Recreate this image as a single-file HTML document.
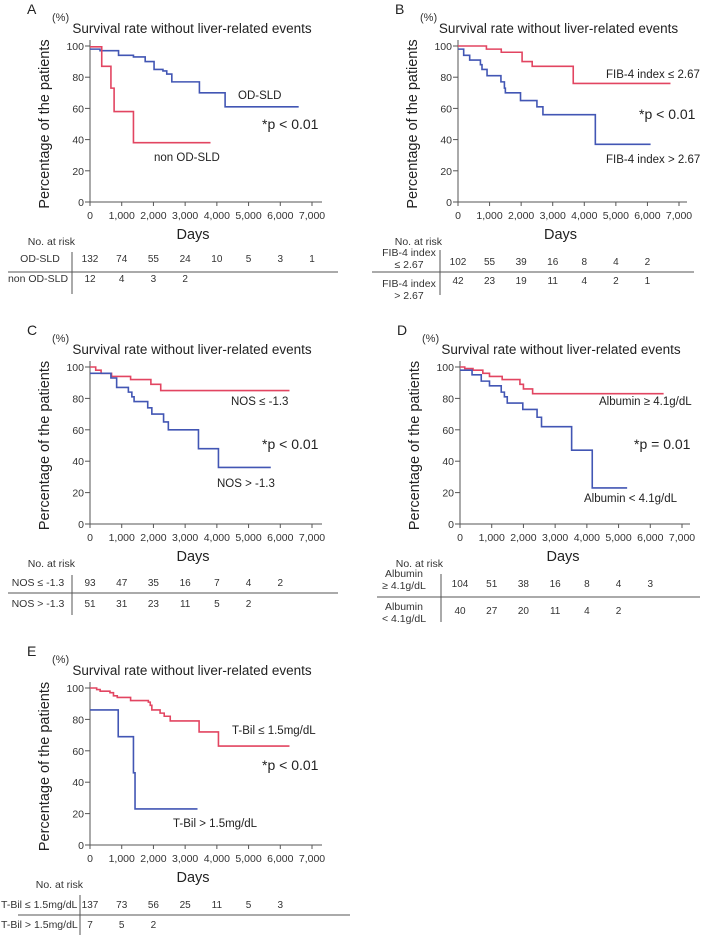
<!DOCTYPE html>
<html><head><meta charset="utf-8">
<style>
html,body{margin:0;padding:0;background:#fff;}
svg{display:block;font-family:"Liberation Sans",sans-serif;}
</style></head>
<body>
<svg id="fig" width="708" height="935" viewBox="0 0 708 935"></svg>
<script>
// ---- data ----
const xTicks = [0,1000,2000,3000,4000,5000,6000,7000];
const xTickLabels = ["0","1,000","2,000","3,000","4,000","5,000","6,000","7,000"];
const yTicks = [0,20,40,60,80,100];

const aBlueT = [0,316,900,1370,1740,2020,2300,2420,2580,3450,4260,6580];
const aBlueS = [98,97,94,93,90,85,84,82,77,70,61,61];
const aRedT = [0,370,660,760,1370,3800];
const aRedS = [99.5,87,73,58,38,38];

const bRedT = [0,900,1370,2030,2350,3650,6730];
const bRedS = [100,98,96,90,87,76,76];
const bBlueT = [0,180,370,710,760,920,1360,1470,1500,1980,2500,2690,4350,6100];
const bBlueS = [98,94,91,88,85,81,77,73,70,65,61,56,37,37];

const cRedT = [0,180,350,680,1280,1920,2230,6290];
const cRedS = [100,98,96,94,92,89,85,85];
const cBlueT = [0,660,840,1210,1320,1390,1820,1950,2320,2470,3420,4050,5700];
const cBlueS = [96,93,87,84,81,78,74,70,65,60,48,36,36];

const dRedT = [0,150,410,720,930,1330,1890,2000,2290,6420];
const dRedS = [100,99,98,96,94,92,89,86,83,83];
const dBlueT = [0,380,670,930,1300,1400,1490,1980,2430,2570,3520,4170,5270];
const dBlueS = [98,95,91,88,84,81,77,73,68,62,47,23,23];

const eRedT = [0,210,320,630,740,860,1280,1840,1900,1950,2210,2340,2530,3440,4050,6290];
const eRedS = [100,99,98,97,95,94,92,91,89,86,84,82,79,72,63,63];
const eBlueT = [0,890,1370,1420,3390];
const eBlueS = [86,69,46,23,23];

const aRisk1 = ["132","74","55","24","10","5","3","1"];
const aRisk2 = ["12","4","3","2"];
const bRisk1 = ["102","55","39","16","8","4","2"];
const bRisk2 = ["42","23","19","11","4","2","1"];
const cRisk1 = ["93","47","35","16","7","4","2"];
const cRisk2 = ["51","31","23","11","5","2"];
const dRisk1 = ["104","51","38","16","8","4","3"];
const dRisk2 = ["40","27","20","11","4","2"];
const eRisk1 = ["137","73","56","25","11","5","3"];
const eRisk2 = ["7","5","2"];

const BLUE="#4256b4", RED="#e24561", GRAY="#555";
const svg=document.getElementById('fig');
const NS="http://www.w3.org/2000/svg";
function mk(tag,attrs,parent){const e=document.createElementNS(NS,tag);for(const k in attrs)e.setAttribute(k,attrs[k]);(parent||svg).appendChild(e);return e;}
function txt(s,x,y,size,anchor,parent,fill){const t=mk('text',{x:x,y:y,'font-size':size,'text-anchor':anchor||'start',fill:fill||'#222'},parent);t.textContent=s;return t;}

const panels=[
 {id:'a',letter:'A',x0:90,x7:312,xEnd:322,y100:46,y0:202,
  series:[{t:aBlueT,s:aBlueS,c:BLUE,n:'od-sld-curve'},{t:aRedT,s:aRedS,c:RED,n:'non-od-sld-curve'}],
  notes:[["OD-SLD",238,99],["*p < 0.01",262,129],["non OD-SLD",154,161]],
  risk:{lab:[[["OD-SLD"],40,262],[["non OD-SLD"],38,282]],r1:aRisk1,r2:aRisk2,ry1:262,ry2:282,line:272,lx1:8,lx2:338,vx:72,vy1:252,vy2:294,nar:[75,245]}},
 {id:'b',letter:'B',x0:458,x7:679,xEnd:687,y100:46,y0:202,
  series:[{t:bRedT,s:bRedS,c:RED,n:'fib4-low-curve'},{t:bBlueT,s:bBlueS,c:BLUE,n:'fib4-high-curve'}],
  notes:[["FIB-4 index ≤ 2.67",606,78],["*p < 0.01",639,119],["FIB-4 index > 2.67",606,163]],
  risk:{lab:[[["FIB-4 index","≤ 2.67"],409,256],[["FIB-4 index","> 2.67"],409,287]],r1:bRisk1,r2:bRisk2,ry1:265,ry2:284,line:272,lx1:372,lx2:694,vx:440,vy1:250,vy2:295,nar:[442,245]}},
 {id:'c',letter:'C',x0:90,x7:312,xEnd:322,y100:367,y0:524,
  series:[{t:cRedT,s:cRedS,c:RED,n:'nos-low-curve'},{t:cBlueT,s:cBlueS,c:BLUE,n:'nos-high-curve'}],
  notes:[["NOS ≤ -1.3",231,405],["*p < 0.01",262,449],["NOS > -1.3",217,487]],
  risk:{lab:[[["NOS ≤ -1.3"],38,586],[["NOS > -1.3"],38,607]],r1:cRisk1,r2:cRisk2,ry1:586,ry2:607,line:593,lx1:8,lx2:338,vx:72,vy1:575,vy2:615,nar:[75,567]}},
 {id:'d',letter:'D',x0:460,x7:682,xEnd:690,y100:367,y0:524,
  series:[{t:dRedT,s:dRedS,c:RED,n:'albumin-high-curve'},{t:dBlueT,s:dBlueS,c:BLUE,n:'albumin-low-curve'}],
  notes:[["Albumin  ≥ 4.1g/dL",599,405],["*p = 0.01",634,449],["Albumin < 4.1g/dL",584,502]],
  risk:{lab:[[["Albumin","≥ 4.1g/dL"],404,577],[["Albumin","< 4.1g/dL"],404,610]],r1:dRisk1,r2:dRisk2,ry1:587,ry2:614,line:597,lx1:377,lx2:700,vx:441,vy1:574,vy2:622,nar:[443,567]}},
 {id:'e',letter:'E',x0:90,x7:312,xEnd:322,y100:688,y0:845,
  series:[{t:eRedT,s:eRedS,c:RED,n:'tbil-low-curve'},{t:eBlueT,s:eBlueS,c:BLUE,n:'tbil-high-curve'}],
  notes:[["T-Bil ≤ 1.5mg/dL",232,734],["*p < 0.01",262,770],["T-Bil > 1.5mg/dL",173,827]],
  risk:{lab:[[["T-Bil ≤ 1.5mg/dL"],1,908,'start'],[["T-Bil > 1.5mg/dL"],1,928,'start']],r1:eRisk1,r2:eRisk2,ry1:908,ry2:928,line:915,lx1:18,lx2:350,vx:80,vy1:895,vy2:935,nar:[83,888]}}
];

panels.forEach(p=>{
  const g=mk('g',{});
  
  
  const xs=d=>p.x0+(p.x7-p.x0)*d/7000;
  const ys=v=>p.y0-(p.y0-p.y100)*v/100;
  const top=p.y100-28;
  const cx=(p.x0+p.xEnd)/2;
  const L=txt(p.letter,p.x0-63,top-4,14,'start',g);
  
  
  const pc=txt("(%)",p.x0-38,top+3,11,'start',g,'#333');
  
  
  const ti=txt("Survival rate without liver-related events",cx-14,top+15,13.5,'middle',g);
  
  
  const ax=mk('path',{d:`M${p.x0},${p.y100-6}V${p.y0}H${p.xEnd}`,stroke:GRAY,'stroke-width':1,fill:'none'},g);
  
  
  yTicks.forEach(v=>{
    mk('line',{x1:p.x0-5,x2:p.x0,y1:ys(v),y2:ys(v),stroke:GRAY},g);
    const t=txt(String(v),p.x0-6,ys(v)+4,10.5,'end',g,'#333');
    
    
  });
  xTicks.forEach((d,i)=>{
    mk('line',{x1:xs(d),x2:xs(d),y1:p.y0,y2:p.y0+4,stroke:GRAY},g);
    const t=txt(xTickLabels[i],xs(d),p.y0+17,10.5,'middle',g,'#333');
    
    
  });
  const yt=txt("Percentage of the patients",0,0,14.5,'middle',g);
  yt.setAttribute('transform',`translate(${p.x0-41},${(p.y0+p.y100)/2}) rotate(-90)`);
  
  
  const xt=txt("Days",(p.x0+p.x7)/2-8,p.y0+37,14.5,'middle',g);
  
  
  p.series.forEach(sr=>{
    let d=`M${xs(sr.t[0])},${ys(sr.s[0])}`;
    for(let i=1;i<sr.t.length;i++){d+=`H${xs(sr.t[i])}V${ys(sr.s[i])}`;}
    const path=mk('path',{d:d,stroke:sr.c,'stroke-width':1.6,fill:'none'},g);
    
    
  });
  p.notes.forEach((n,i)=>{
    const t=txt(n[0],n[1],n[2],i==1?14:11.5,'start',g,'#222');
    
    
  });
  const r=p.risk;
  const nar=txt("No. at risk",r.nar[0],r.nar[1],10.5,'end',g,'#333');
  
  
  r.lab.forEach(l=>{
    l[0].forEach((s,j)=>{
      const t=txt(s,l[1],l[2]+j*12,10.5,l[3]||'middle',g,'#333');
      
      
    });
  });
  r.r1.forEach((v,i)=>{
    const t=txt(v,xs(xTicks[i]),r.ry1,10,'middle',g,'#333');
    
    
  });
  r.r2.forEach((v,i)=>{
    const t=txt(v,xs(xTicks[i]),r.ry2,10,'middle',g,'#333');
    
    
  });
  mk('line',{x1:r.lx1,x2:r.lx2,y1:r.line,y2:r.line,stroke:GRAY},g);
  mk('line',{x1:r.vx,x2:r.vx,y1:r.vy1,y2:r.vy2,stroke:GRAY},g);
});
</script>
</body></html>
